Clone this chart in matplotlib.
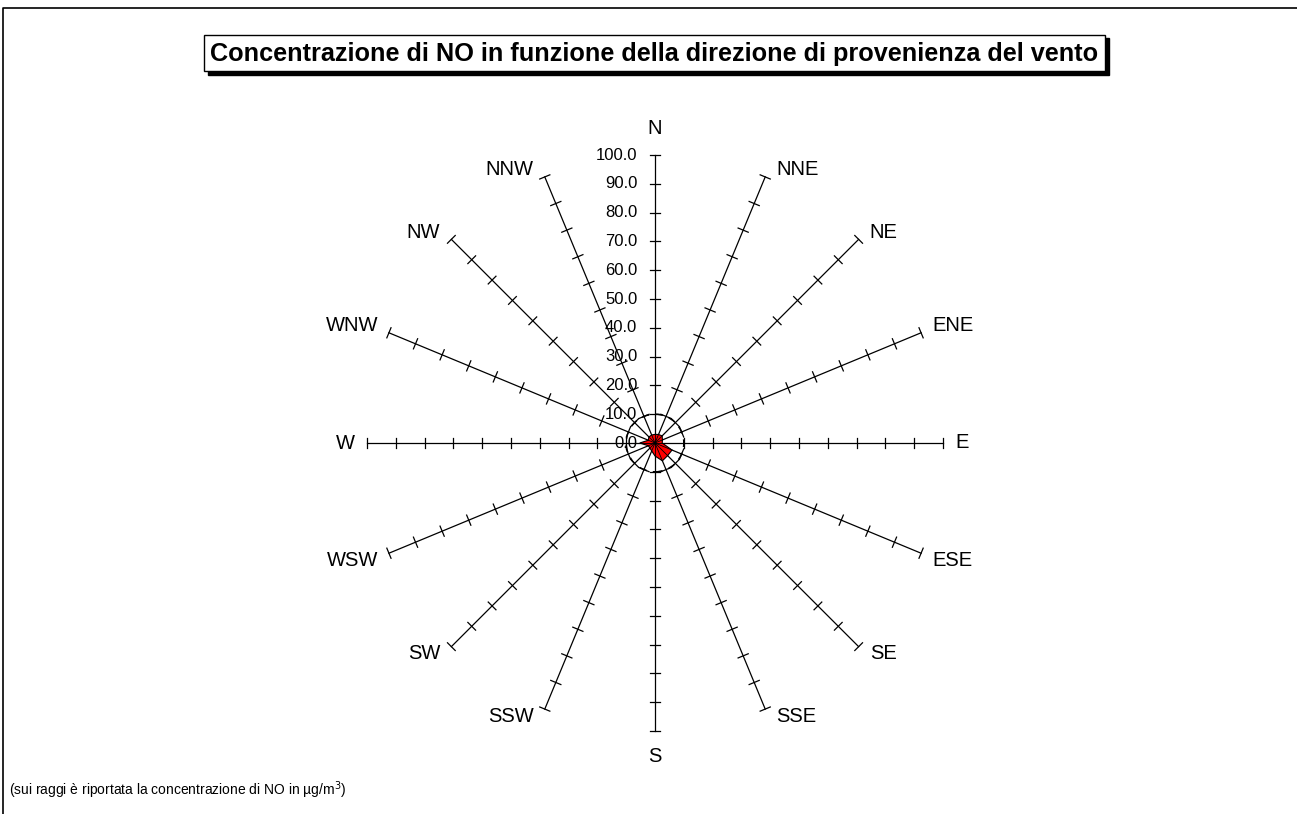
import numpy as np
import matplotlib
matplotlib.use("Agg")
import matplotlib.pyplot as plt
from matplotlib.patches import Rectangle, Circle, Polygon
import matplotlib.transforms as mtransforms

plt.rcParams['font.family'] = ['Liberation Sans', 'DejaVu Sans']

directions = ["N", "NNE", "NE", "ENE", "E", "ESE", "SE", "SSE",
              "S", "SSW", "SW", "WSW", "W", "WNW", "NW", "NNW"]
values = [3.0, 3.2, 3.5, 2.8, 2.5, 6.4, 6.2, 6.7,
          4.5, 3.0, 2.5, 2.5, 5.3, 2.5, 3.0, 3.0]
tick_values = [0, 10, 20, 30, 40, 50, 60, 70, 80, 90, 100]
tick_labels = ["0.0", "10.0", "20.0", "30.0", "40.0", "50.0",
               "60.0", "70.0", "80.0", "90.0", "100.0"]
title = "Concentrazione di NO in funzione della direzione di provenienza del vento"
note = "(sui raggi è riportata la concentrazione di NO in µg/m$^3$)"

W, H = 1297, 814
cx, cy = 655, 443
scale = 2.88  # px per unit
rmax = 100

fig = plt.figure(figsize=(W / 100, H / 100), dpi=100)
ax = fig.add_axes([0, 0, 1, 1])
ax.set_xlim(-cx / scale, (W - cx) / scale)
ax.set_ylim(-(H - cy) / scale, cy / scale)
ax.axis('off')

ang = np.deg2rad(np.arange(16) * 22.5)
tick_len = 1.9  # units (half length)

# spokes with ticks
for th in ang:
    s, c = np.sin(th), np.cos(th)
    ax.plot([0, rmax * s], [0, rmax * c], color='black', lw=0.9, zorder=2)
    for tv in tick_values[1:]:
        px, py = tv * s, tv * c
        ax.plot([px - tick_len * c, px + tick_len * c],
                [py + tick_len * s, py - tick_len * s],
                color='black', lw=0.9, zorder=2)

# dashed circle
ax.add_patch(Circle((0, 0), 10, fill=False, ls=(0, (5, 4)), lw=1.1,
                    color='black', zorder=2))

# data polygon
vals = np.array(values)
pts = np.column_stack([vals * np.sin(ang), vals * np.cos(ang)])
ax.add_patch(Polygon(pts, closed=True, facecolor='#ff0000',
                     edgecolor='black', lw=0.8, zorder=3))
for (px, py) in pts:
    ax.plot([0, px], [0, py], color='black', lw=0.6, zorder=4)

# value labels along north spoke
for tv, tl in zip(tick_values, tick_labels):
    ax.text(-6.2, tv, tl, ha='right', va='center', fontsize=12, zorder=5)

# direction labels
for th, d in zip(ang, directions):
    s, c = np.sin(th), np.cos(th)
    x, y = rmax * s, rmax * c
    if abs(s) < 0.01:
        dx, dy, ha = 0, (26 if c > 0 else -26), 'center'
    elif abs(c) < 0.01:
        dx, dy, ha = (12 if s > 0 else -12), 0, ('left' if s > 0 else 'right')
    else:
        dx = 11 if s > 0 else -11
        dy = 7 if c > 0 else -7
        ha = 'left' if s > 0 else 'right'
    off = mtransforms.offset_copy(ax.transData, fig=fig, x=dx, y=dy, units='dots')
    ax.text(x, y, d, transform=off, ha=ha, va='center', fontsize=14.5)

# title box with shadow
ft = fig.transFigure
def fx(px): return px / W
def fy(py): return 1 - py / H
fig.patches.append(Rectangle((fx(208), fy(75)), fx(1109) - fx(208), fy(38) - fy(75),
                             transform=ft, facecolor='black', edgecolor='black',
                             zorder=1))
fig.patches.append(Rectangle((fx(204), fy(71)), fx(1105) - fx(204), fy(35) - fy(71),
                             transform=ft, facecolor='white', edgecolor='black',
                             lw=1.0, zorder=2))
fig.text(fx(654), fy(54), title, ha='center', va='center', fontsize=18.2,
         fontweight='bold', zorder=5)

# outer frame (top and left)
fig.add_artist(plt.Line2D([fx(3), fx(3), fx(W)], [fy(H), fy(8), fy(8)],
                          transform=ft, color='black', lw=1.2))

fig.text(fx(9), fy(790), note, ha='left', va='center', fontsize=10)

fig.savefig("out.png", dpi=100)
